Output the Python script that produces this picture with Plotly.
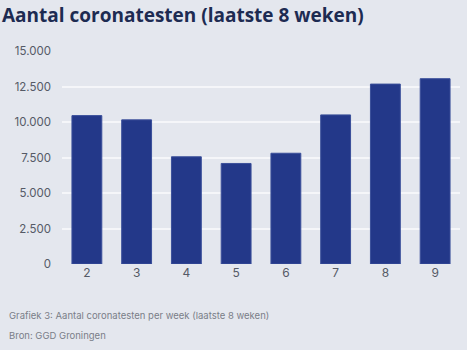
import plotly.graph_objects as go

# Weekly number of corona tests (last 8 weeks)
weeks = ["2", "3", "4", "5", "6", "7", "8", "9"]
tests = [10450, 10150, 7550, 7080, 7800, 10500, 12670, 13050]
y_ticks = [0, 2500, 5000, 7500, 10000, 12500, 15000]
y_tick_labels = ["0", "2.500", "5.000", "7.500", "10.000", "12.500", "15.000"]

BG = "#e4e7ee"
NAVY = "#233889"

fig = go.Figure(
    go.Bar(
        x=weeks,
        y=tests,
        marker=dict(color=NAVY, line=dict(color="#3a4f9a", width=1)),
        hoverinfo="x+y",
    )
)

fig.update_layout(
    width=467,
    height=350,
    paper_bgcolor=BG,
    plot_bgcolor=BG,
    margin=dict(l=62, r=7, t=51, b=86),
    bargap=0.4,
    showlegend=False,
    font=dict(family="Inter, sans-serif"),
)

fig.update_xaxes(
    type="category",
    showgrid=False,
    zeroline=False,
    showline=False,
    ticks="",
    tickfont=dict(size=12, color="#555a66"),
    range=[-0.5, 7.5],
)

fig.update_yaxes(
    range=[0, 15000],
    tickvals=y_ticks,
    ticktext=y_tick_labels,
    showgrid=True,
    gridcolor="#f5f6f9",
    gridwidth=1.5,
    zeroline=False,
    showline=False,
    ticks="",
    ticklabelstandoff=10,
    tickfont=dict(size=11.5, color="#555a66"),
)

fig.add_annotation(
    text="<b>Aantal coronatesten (laatste 8 weken)</b>",
    xref="paper", yref="paper",
    x=-62 / 398, y=1 + 36 / 213,
    xanchor="left", yanchor="middle",
    showarrow=False,
    font=dict(family="Open Sans", size=19, color="#1d2b52"),
)

fig.add_annotation(
    text="Grafiek 3: Aantal coronatesten per week (laatste 8 weken)",
    xref="paper", yref="paper",
    x=-55 / 398, y=-(315 - 264) / 213,
    xanchor="left", yanchor="middle",
    showarrow=False,
    font=dict(size=9.5, color="#7a7e88"),
)

fig.add_annotation(
    text="Bron: GGD Groningen",
    xref="paper", yref="paper",
    x=-55 / 398, y=-(335 - 264) / 213,
    xanchor="left", yanchor="middle",
    showarrow=False,
    font=dict(size=9.5, color="#7a7e88"),
)

fig.write_html("out.html")
